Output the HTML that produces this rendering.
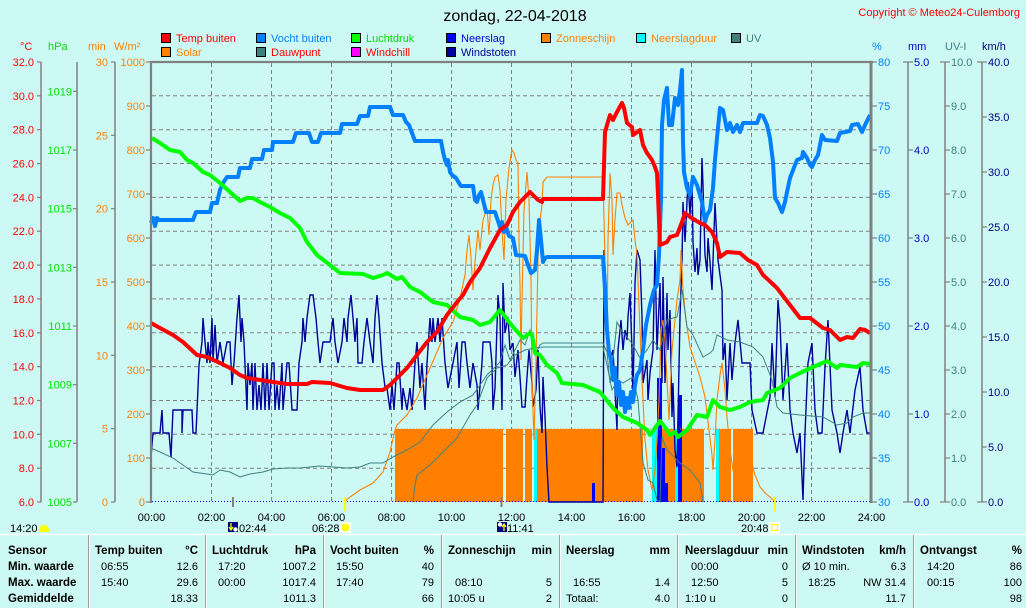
<!DOCTYPE html>
<html><head><meta charset="utf-8"><style>
html,body{margin:0;padding:0;background:#CDF9F5;}
svg{display:block;font-family:"Liberation Sans",Arial,sans-serif;}
</style></head><body>
<svg width="1026" height="608" viewBox="0 0 1026 608" xmlns="http://www.w3.org/2000/svg">
<rect x="0" y="0" width="1026" height="608" fill="#CDF9F5"/>
<!-- title -->
<text x="515" y="21" font-size="16" text-anchor="middle" fill="#000">zondag, 22-04-2018</text>
<text x="1020" y="16" font-size="11" text-anchor="end" fill="#FF0000">Copyright © Meteo24-Culemborg</text>

<!-- legend -->
<g font-size="11">
<rect x="161.5" y="33.5" width="9" height="9" fill="#FF0000" stroke="#000"/><text x="176" y="42" fill="#FF0000">Temp buiten</text>
<rect x="256.5" y="33.5" width="9" height="9" fill="#0080FF" stroke="#000"/><text x="271" y="42" fill="#0080FF">Vocht buiten</text>
<rect x="351.5" y="33.5" width="9" height="9" fill="#00FF00" stroke="#000"/><text x="366" y="42" fill="#00E000">Luchtdruk</text>
<rect x="446.5" y="33.5" width="9" height="9" fill="#0000FF" stroke="#000"/><text x="461" y="42" fill="#0000E0">Neerslag</text>
<rect x="541.5" y="33.5" width="9" height="9" fill="#FF8000" stroke="#000"/><text x="556" y="42" fill="#FF8000">Zonneschijn</text>
<rect x="636.5" y="33.5" width="9" height="9" fill="#00FFFF" stroke="#000"/><text x="651" y="42" fill="#FF8000">Neerslagduur</text>
<rect x="731.5" y="33.5" width="9" height="9" fill="#408080" stroke="#000"/><text x="746" y="42" fill="#408080">UV</text>
<rect x="161.5" y="47.5" width="9" height="9" fill="#FF8000" stroke="#000"/><text x="176" y="56" fill="#FF8000">Solar</text>
<rect x="256.5" y="47.5" width="9" height="9" fill="#408080" stroke="#000"/><text x="271" y="56" fill="#FF0000">Dauwpunt</text>
<rect x="351.5" y="47.5" width="9" height="9" fill="#FF00FF" stroke="#000"/><text x="366" y="56" fill="#FF0000">Windchill</text>
<rect x="446.5" y="47.5" width="9" height="9" fill="#000099" stroke="#000"/><text x="461" y="56" fill="#000099">Windstoten</text>
</g>

<!-- unit headers -->
<g font-size="11">
<text x="20" y="50" fill="#FF0000">°C</text>
<text x="48" y="50" fill="#00E000">hPa</text>
<text x="88" y="50" fill="#FF8000">min</text>
<text x="114" y="50" fill="#FF8000">W/m²</text>
<text x="872" y="50" fill="#0080FF">%</text>
<text x="908" y="50" fill="#0000CC">mm</text>
<text x="945" y="50" fill="#408080">UV-I</text>
<text x="982" y="50" fill="#000080">km/h</text>
</g>

<!-- left axes lines -->
<g stroke="#808080" stroke-width="1.5">
<line x1="41" y1="62" x2="41" y2="502"/>
<line x1="77" y1="62" x2="77" y2="502"/>
<line x1="115" y1="62" x2="115" y2="502"/>
<line x1="908" y1="62" x2="908" y2="502"/>
<line x1="945" y1="62" x2="945" y2="502"/>
<line x1="982" y1="62" x2="982" y2="502"/>
</g>
<!-- °C ticks/labels -->
<g stroke="#808080" stroke-width="1.2">
<line x1="37" y1="62" x2="41" y2="62"/><line x1="37" y1="95.8" x2="41" y2="95.8"/><line x1="37" y1="129.7" x2="41" y2="129.7"/><line x1="37" y1="163.5" x2="41" y2="163.5"/><line x1="37" y1="197.4" x2="41" y2="197.4"/><line x1="37" y1="231.2" x2="41" y2="231.2"/><line x1="37" y1="265.1" x2="41" y2="265.1"/><line x1="37" y1="298.9" x2="41" y2="298.9"/><line x1="37" y1="332.8" x2="41" y2="332.8"/><line x1="37" y1="366.6" x2="41" y2="366.6"/><line x1="37" y1="400.5" x2="41" y2="400.5"/><line x1="37" y1="434.3" x2="41" y2="434.3"/><line x1="37" y1="468.2" x2="41" y2="468.2"/><line x1="37" y1="502" x2="41" y2="502"/>
<line x1="73" y1="91.3" x2="77" y2="91.3"/><line x1="73" y1="150" x2="77" y2="150"/><line x1="73" y1="208.7" x2="77" y2="208.7"/><line x1="73" y1="267.3" x2="77" y2="267.3"/><line x1="73" y1="326" x2="77" y2="326"/><line x1="73" y1="384.7" x2="77" y2="384.7"/><line x1="73" y1="443.3" x2="77" y2="443.3"/><line x1="73" y1="502" x2="77" y2="502"/>
<line x1="111" y1="62" x2="115" y2="62"/><line x1="111" y1="135.3" x2="115" y2="135.3"/><line x1="111" y1="208.7" x2="115" y2="208.7"/><line x1="111" y1="282" x2="115" y2="282"/><line x1="111" y1="355.3" x2="115" y2="355.3"/><line x1="111" y1="428.7" x2="115" y2="428.7"/><line x1="111" y1="502" x2="115" y2="502"/>
<line x1="146" y1="62" x2="151" y2="62"/><line x1="146" y1="106" x2="151" y2="106"/><line x1="146" y1="150" x2="151" y2="150"/><line x1="146" y1="194" x2="151" y2="194"/><line x1="146" y1="238" x2="151" y2="238"/><line x1="146" y1="282" x2="151" y2="282"/><line x1="146" y1="326" x2="151" y2="326"/><line x1="146" y1="370" x2="151" y2="370"/><line x1="146" y1="414" x2="151" y2="414"/><line x1="146" y1="458" x2="151" y2="458"/><line x1="146" y1="502" x2="151" y2="502"/>
<!-- right -->
<line x1="871" y1="62" x2="877" y2="62"/><line x1="871" y1="106" x2="877" y2="106"/><line x1="871" y1="150" x2="877" y2="150"/><line x1="871" y1="194" x2="877" y2="194"/><line x1="871" y1="238" x2="877" y2="238"/><line x1="871" y1="282" x2="877" y2="282"/><line x1="871" y1="326" x2="877" y2="326"/><line x1="871" y1="370" x2="877" y2="370"/><line x1="871" y1="414" x2="877" y2="414"/><line x1="871" y1="458" x2="877" y2="458"/><line x1="871" y1="502" x2="877" y2="502"/>
<line x1="903" y1="62" x2="913" y2="62"/><line x1="908" y1="150" x2="913" y2="150"/><line x1="908" y1="238" x2="913" y2="238"/><line x1="908" y1="326" x2="913" y2="326"/><line x1="908" y1="414" x2="913" y2="414"/><line x1="903" y1="502" x2="913" y2="502"/>
<line x1="940" y1="62" x2="950" y2="62"/><line x1="945" y1="106" x2="950" y2="106"/><line x1="945" y1="150" x2="950" y2="150"/><line x1="945" y1="194" x2="950" y2="194"/><line x1="945" y1="238" x2="950" y2="238"/><line x1="945" y1="282" x2="950" y2="282"/><line x1="945" y1="326" x2="950" y2="326"/><line x1="945" y1="370" x2="950" y2="370"/><line x1="945" y1="414" x2="950" y2="414"/><line x1="945" y1="458" x2="950" y2="458"/><line x1="940" y1="502" x2="950" y2="502"/>
<line x1="977" y1="62" x2="987" y2="62"/><line x1="982" y1="117" x2="987" y2="117"/><line x1="982" y1="172" x2="987" y2="172"/><line x1="982" y1="227" x2="987" y2="227"/><line x1="982" y1="282" x2="987" y2="282"/><line x1="982" y1="337" x2="987" y2="337"/><line x1="982" y1="392" x2="987" y2="392"/><line x1="982" y1="447" x2="987" y2="447"/><line x1="977" y1="502" x2="987" y2="502"/>
</g>
<g font-size="11" text-anchor="end">
<g fill="#FF0000">
<text x="34" y="66">32.0</text><text x="34" y="99.8">30.0</text><text x="34" y="133.7">28.0</text><text x="34" y="167.5">26.0</text><text x="34" y="201.4">24.0</text><text x="34" y="235.2">22.0</text><text x="34" y="269.1">20.0</text><text x="34" y="302.9">18.0</text><text x="34" y="336.8">16.0</text><text x="34" y="370.6">14.0</text><text x="34" y="404.5">12.0</text><text x="34" y="438.3">10.0</text><text x="34" y="472.2">8.0</text><text x="34" y="506">6.0</text>
</g>
<g fill="#00E000">
<text x="72" y="95.3">1019</text><text x="72" y="154">1017</text><text x="72" y="212.7">1015</text><text x="72" y="271.3">1013</text><text x="72" y="330">1011</text><text x="72" y="388.7">1009</text><text x="72" y="447.3">1007</text><text x="72" y="506">1005</text>
</g>
<g fill="#FF8000">
<text x="108" y="66">30</text><text x="108" y="139.3">25</text><text x="108" y="212.7">20</text><text x="108" y="286">15</text><text x="108" y="359.3">10</text><text x="108" y="432.7">5</text><text x="108" y="506">0</text>
<text x="145" y="66">1000</text><text x="145" y="110">900</text><text x="145" y="154">800</text><text x="145" y="198">700</text><text x="145" y="242">600</text><text x="145" y="286">500</text><text x="145" y="330">400</text><text x="145" y="374">300</text><text x="145" y="418">200</text><text x="145" y="462">100</text><text x="145" y="506">0</text>
</g>
</g>
<g font-size="11">
<g fill="#0080FF">
<text x="878" y="66">80</text><text x="878" y="110">75</text><text x="878" y="154">70</text><text x="878" y="198">65</text><text x="878" y="242">60</text><text x="878" y="286">55</text><text x="878" y="330">50</text><text x="878" y="374">45</text><text x="878" y="418">40</text><text x="878" y="462">35</text><text x="878" y="506">30</text>
</g>
<g fill="#0000CC">
<text x="914" y="66">5.0</text><text x="914" y="154">4.0</text><text x="914" y="242">3.0</text><text x="914" y="330">2.0</text><text x="914" y="418">1.0</text><text x="914" y="506">0.0</text>
</g>
<g fill="#408080">
<text x="951" y="66">10.0</text><text x="951" y="110">9.0</text><text x="951" y="154">8.0</text><text x="951" y="198">7.0</text><text x="951" y="242">6.0</text><text x="951" y="286">5.0</text><text x="951" y="330">4.0</text><text x="951" y="374">3.0</text><text x="951" y="418">2.0</text><text x="951" y="462">1.0</text><text x="951" y="506">0.0</text>
</g>
<g fill="#000080">
<text x="988" y="66">40.0</text><text x="988" y="121">35.0</text><text x="988" y="176">30.0</text><text x="988" y="231">25.0</text><text x="988" y="286">20.0</text><text x="988" y="341">15.0</text><text x="988" y="396">10.0</text><text x="988" y="451">5.0</text><text x="988" y="506">0.0</text>
</g>
</g>

<!-- grid -->
<g stroke="#808080" stroke-width="1" stroke-dasharray="4,3" fill="none">
<path d="M211.5 63V502M271.5 63V502M331.5 63V502M391.5 63V502M451.5 63V502M511.5 63V502M571.5 63V502M631.5 63V502M691.5 63V502M751.5 63V502M811.5 63V502"/>
<path d="M152 95.8H870M152 129.7H870M152 163.5H870M152 197.4H870M152 231.2H870M152 265.1H870M152 298.9H870M152 332.8H870M152 366.6H870M152 400.5H870M152 434.3H870M152 468.2H870"/>
</g>

<!-- zonneschijn bars -->
<g fill="#FF8000">
<rect x="395" y="429" width="108" height="73"/>
<rect x="506" y="429" width="17" height="73"/>
<rect x="525" y="429" width="7" height="73"/>
<rect x="537" y="429" width="106" height="73"/>
<rect x="662" y="429" width="13" height="73"/>
<rect x="681" y="429" width="23" height="73"/>
<rect x="719" y="429" width="12" height="73"/>
<rect x="733" y="429" width="20" height="73"/>
</g>
<!-- neerslagduur -->
<g fill="#00FFFF">
<rect x="534" y="429" width="3" height="73"/>
<rect x="652" y="429" width="5" height="73"/>
<rect x="675" y="429" width="3" height="73"/>
<rect x="716" y="429" width="3" height="73"/>
</g>
<!-- neerslag -->
<g fill="#0000FF">
<rect x="592" y="483" width="3" height="19"/>
<rect x="657" y="378" width="5" height="124"/>
<rect x="662" y="448" width="3" height="54"/>
<rect x="665" y="483" width="3" height="19"/>
<rect x="678" y="395" width="4" height="107"/>
</g>
<line x1="395" y1="429" x2="753" y2="429" stroke="#FF8000" stroke-width="1" stroke-dasharray="1,2"/>
<line x1="152" y1="501.5" x2="870" y2="501.5" stroke="#0000FF" stroke-width="1" stroke-dasharray="1,2"/>

<!-- windstoten -->
<polyline fill="none" stroke="#000099" stroke-width="1.4" points="151,457 153,433 160,433 162,410 163,433 169,433 171,457 172,433 173,410 182,410 182,433 183,410 192,410 193,433 196,433 198,388 199,365 202,342 203,318 205,342 207,363 208,342 210,363 212,318 213,362 215,325 217,363 220,342 223,363 227,342 230,342 232,385 234,363 237,318 239,295 241,342 242,318 244,342 247,410 248,363 250,385 252,363 253,410 255,363 257,410 259,385 261,410 263,363 265,410 267,363 269,410 272,363 274,363 275,410 277,385 279,410 282,363 283,410 287,363 289,363 292,410 297,410 299,363 302,342 303,318 305,342 307,318 310,295 313,295 316,318 318,342 320,363 323,342 330,342 333,318 335,342 338,363 342,342 344,318 347,342 348,318 351,295 353,318 355,342 357,318 358,363 362,363 364,342 367,318 370,342 373,363 375,318 377,295 379,318 382,363 385,387 387,388 390,410 392,385 394,410 397,363 399,363 402,410 403,388 407,410 410,388 412,410 415,363 417,342 420,388 422,363 425,410 427,363 430,318 432,342 433,318 435,342 438,318 440,342 442,318 445,363 448,388 453,363 457,342 459,388 462,342 465,342 467,363 470,388 473,363 477,385 478,410 482,363 483,342 490,342 492,363 493,410 495,388 498,295 500,318 502,410 503,283 505,333 508,317 510,350 513,343 515,377 518,350 520,377 522,407 525,407 527,377 529,350 532,383 533,407 536,390 538,350 540,407 542,433 543,377 545,417 547,467 549,502 603,502 604,250 606,283 607,333 610,360 613,350 617,430 618,350 621,320 623,350 625,330 627,340 628,317 630,293 632,350 633,400 635,283 637,250 640,260 642,317 643,383 647,360 648,400 650,373 653,350 655,250 657,350 660,283 662,383 663,277 665,383 667,293 668,350 670,310 672,417 673,383 675,450 677,467 680,317 682,262 683,202 685,242 688,182 690,215 692,178 693,242 695,272 697,248 698,275 700,260 702,158 703,185 705,255 707,272 708,238 710,262 712,290 715,203 718,260 722,290 723,360 725,343 727,400 730,343 732,380 735,343 738,320 742,363 750,363 752,410 757,433 763,433 770,397 772,343 775,397 778,300 780,323 783,400 787,343 790,410 793,433 797,453 800,433 803,500 805,433 808,363 812,343 815,410 818,433 822,433 825,367 828,320 832,410 837,433 840,453 843,433 847,410 850,433 855,390 860,367 863,410 867,433 870,433"/>

<!-- solar -->
<polyline fill="none" stroke="#FF8000" stroke-width="1.1" points="344,502 350,497 360,490 373,483 383,472 390,452 395,430 397,425 407,415 417,398 427,375 437,352 443,338 453,322 460,298 465,275 467,250 469,235 471,258 473,290 475,262 478,230 480,250 483,220 487,208 489,235 491,200 493,185 495,177 498,175 500,190 502,230 504,260 506,200 509,168 511,155 512,150 514,153 516,160 518,163 519,240 520,285 521,360 522,300 524,210 527,172 529,200 531,280 532,380 534,440 536,360 538,260 540,220 542,205 543,182 547,177 603,177 605,260 607,350 608,240 610,173 612,200 613,255 615,220 617,193 620,193 622,205 625,218 628,225 633,220 635,240 637,255 640,330 642,380 645,440 648,470 652,490 655,470 657,440 659,400 661,330 663,320 665,340 667,380 669,420 672,350 675,320 677,300 680,280 681,250 683,290 686,320 690,347 695,362 700,377 705,397 709,430 712,455 713,470 715,440 717,400 720,375 722,363 725,390 727,417 730,450 733,470 737,483 745,480 752,463 755,475 760,487 765,493 770,497 775,502"/>

<!-- dauwpunt -->
<polyline fill="none" stroke="#408080" stroke-width="1" points="151,448 160,452 173,458 183,465 193,472 207,474 213,475 220,470 230,472 240,477 250,474 263,472 273,469 287,468 300,468 320,466 333,467 347,468 360,467 370,463 383,463 393,457 407,450 420,442 433,425 447,412 460,402 473,395 487,375 500,362 505,345 510,360 515,350 520,340 525,345 530,330 535,355 540,345 543,343 603,343 607,352 610,383 613,360 617,322 621,330 627,337 633,345 640,358 647,350 653,340 660,350 667,320 673,318 677,317 682,290 687,327 693,335 703,357 710,353 713,350 717,335 727,340 740,342 753,347 763,357 772,380 777,407 783,413 800,415 823,417 837,425 847,423 853,417 863,413 870,413"/>
<!-- UV -->
<polyline fill="none" stroke="#408080" stroke-width="1" points="413,502 415,485 417,475 430,465 443,452 457,438 470,415 477,405 487,378 497,368 507,365 515,355 525,350 535,348 543,347 603,347 607,365 612,390 618,380 623,383 633,377 638,400 643,463 648,480 653,483 657,500 660,502 662,437 667,450 680,463 690,470 700,483 703,502"/>

<!-- vocht buiten -->
<polyline fill="none" stroke="#0080FF" stroke-width="4" stroke-linejoin="round" points="151,223 153,218 155,226 157,218 159,220 193,220 196,212 210,212 212,203 217,203 220,190 223,183 227,177 238,177 240,168 250,168 252,159 262,159 264,150 272,150 273,142 293,142 296,133 309,133 312,142 318,142 321,133 340,133 342,124 357,124 360,116 368,116 370,107 390,107 393,115 403,115 406,122 409,125 412,133 415,141 441,141 443,152 445,160 447,165 448,160 450,172 452,175 456,178 459,183 461,186 473,186 475,200 477,202 479,195 481,192 483,200 486,212 495,212 497,218 499,224 501,230 502,222 504,232 506,227 509,236 513,238 516,255 525,256 528,265 531,273 535,270 537,250 539,220 541,240 543,262 545,258 547,257 603,257 605,290 607,330 609,352 611,360 613,380 615,368 617,395 619,382 621,405 623,392 625,412 627,398 629,408 631,392 633,402 635,385 637,375 640,370 643,350 646,325 650,305 654,290 657,285 659,255 661,200 662,125 664,100 667,88 669,125 672,125 675,98 678,105 680,90 682,70 683,142 684,172 687,188 690,195 693,177 697,185 702,202 705,222 707,215 710,210 713,188 715,160 717,138 720,108 723,110 727,130 730,123 733,132 737,125 740,132 743,123 757,123 760,115 763,116 767,125 770,138 773,162 775,198 778,203 782,212 785,202 787,192 790,178 795,165 797,160 802,158 803,152 807,158 810,165 812,167 815,160 818,155 822,135 825,140 837,141 840,133 850,131 852,125 858,124 862,132 865,125 870,115"/>

<!-- luchtdruk -->
<polyline fill="none" stroke="#00FF00" stroke-width="4" stroke-linejoin="round" points="152,138 160,143 170,150 180,152 187,160 193,163 203,172 210,175 220,183 230,192 240,201 247,198 253,198 260,202 270,207 280,213 290,218 300,228 307,242 317,255 330,265 340,273 363,274 373,278 383,275 387,273 397,279 402,277 410,287 420,292 433,302 447,305 460,317 473,320 480,325 490,322 500,310 513,327 523,338 530,333 532,335 535,353 540,355 547,365 557,373 562,383 583,385 600,392 613,408 623,417 637,423 647,430 650,435 660,421 667,430 670,435 675,432 678,437 687,430 697,415 707,417 713,400 720,407 730,410 740,407 750,402 763,400 767,393 780,388 790,378 800,373 813,367 827,361 837,368 840,365 857,367 863,363 870,364"/>

<!-- temp buiten -->
<polyline fill="none" stroke="#FF0000" stroke-width="4" stroke-linejoin="round" points="151,323 160,328 173,335 183,342 197,355 207,357 220,363 230,368 240,375 247,378 267,381 273,382 287,384 307,384 312,382 330,383 347,388 360,390 383,390 390,385 397,378 407,368 417,355 427,342 437,332 447,315 457,302 463,295 470,282 480,268 490,248 500,230 507,225 513,212 520,202 530,192 538,200 542,202 543,199 603,199 605,132 610,115 613,120 617,112 622,103 624,108 627,123 632,127 633,135 640,130 643,145 647,153 652,160 655,167 657,173 658,195 660,245 667,242 670,237 677,235 682,222 685,213 690,217 700,223 705,225 712,232 717,243 720,257 727,252 740,253 748,260 757,265 763,275 777,288 790,305 800,318 810,318 823,328 830,330 840,340 847,337 853,338 860,329 865,330 870,333"/>

<!-- plot border -->
<g stroke="#808080" fill="none">
<line x1="150" y1="62" x2="873" y2="62" stroke-width="2.2"/>
<line x1="151" y1="61" x2="151" y2="503" stroke-width="2.2"/>
<line x1="871" y1="61" x2="871" y2="503" stroke-width="3"/>
</g>
<!-- time markers -->
<line x1="233" y1="497" x2="233" y2="507" stroke="#808080" stroke-width="2"/>
<line x1="501.5" y1="497" x2="501.5" y2="507" stroke="#808080" stroke-width="2"/>
<line x1="345" y1="497" x2="345" y2="511" stroke="#FFFF00" stroke-width="2"/>
<line x1="775" y1="497" x2="775" y2="511" stroke="#FFFF00" stroke-width="2"/>

<!-- x labels -->
<g font-size="11" text-anchor="middle" fill="#000">
<text x="151.5" y="521">00:00</text><text x="211.5" y="521">02:00</text><text x="271.5" y="521">04:00</text><text x="331.5" y="521">06:00</text><text x="391.5" y="521">08:00</text><text x="451.5" y="521">10:00</text><text x="511.5" y="521">12:00</text><text x="571.5" y="521">14:00</text><text x="631.5" y="521">16:00</text><text x="691.5" y="521">18:00</text><text x="751.5" y="521">20:00</text><text x="811.5" y="521">22:00</text><text x="871.5" y="521">24:00</text>
</g>
<!-- sun/moon row -->
<g font-size="11" fill="#000">
<text x="10" y="532">14:20</text>
<path d="M39 532 Q39 525 44 525 Q49 525 49 532 Z" fill="#FFFF00"/>
<rect x="228" y="522" width="10" height="10" fill="#000080"/>
<path d="M231 523 V529 M229 527 L231 530 L233 527" stroke="#FFFF00" stroke-width="1.3" fill="none"/>
<circle cx="235.5" cy="529.5" r="2.2" fill="#FFFFFF"/>
<text x="239" y="532">02:44</text>
<text x="312" y="532">06:28</text>
<rect x="340" y="522" width="11" height="11" fill="#FFFFFF"/>
<circle cx="345.5" cy="527.5" r="4" fill="#FFFF00"/>
<rect x="497" y="522" width="10" height="10" fill="#000080"/>
<circle cx="500" cy="524.5" r="2.2" fill="#FFFFFF"/>
<path d="M504 531 V525 M502 527 L504 524 L506 527" stroke="#FFFF00" stroke-width="1.3" fill="none"/>
<text x="507" y="532">11:41</text>
<text x="741" y="532">20:48</text>
<rect x="769" y="522" width="11" height="11" fill="#FFFFFF"/>
<rect x="771.5" y="524.5" width="6" height="6" fill="none" stroke="#FFFF00" stroke-width="1.3"/>
</g>

<!-- table -->
<line x1="0" y1="534.5" x2="1026" y2="534.5" stroke="#FFFFFF" stroke-width="1.5"/>
<g stroke-width="1">
<g stroke="#A0A0A0"><line x1="88.5" y1="535" x2="88.5" y2="608"/><line x1="205.5" y1="535" x2="205.5" y2="608"/><line x1="323.5" y1="535" x2="323.5" y2="608"/><line x1="441.5" y1="535" x2="441.5" y2="608"/><line x1="559.5" y1="535" x2="559.5" y2="608"/><line x1="677.5" y1="535" x2="677.5" y2="608"/><line x1="795.5" y1="535" x2="795.5" y2="608"/><line x1="913.5" y1="535" x2="913.5" y2="608"/></g>
<g stroke="#FFFFFF"><line x1="89.5" y1="535" x2="89.5" y2="608"/><line x1="206.5" y1="535" x2="206.5" y2="608"/><line x1="324.5" y1="535" x2="324.5" y2="608"/><line x1="442.5" y1="535" x2="442.5" y2="608"/><line x1="560.5" y1="535" x2="560.5" y2="608"/><line x1="678.5" y1="535" x2="678.5" y2="608"/><line x1="796.5" y1="535" x2="796.5" y2="608"/><line x1="914.5" y1="535" x2="914.5" y2="608"/></g>
</g>
<g font-size="11.5" font-weight="bold" fill="#000">
<text x="8" y="554">Sensor</text><text x="8" y="570">Min. waarde</text><text x="8" y="586">Max. waarde</text><text x="8" y="602">Gemiddelde</text>
<text x="95" y="554">Temp buiten</text><text x="198" y="554" text-anchor="end">°C</text>
<text x="212" y="554">Luchtdruk</text><text x="316" y="554" text-anchor="end">hPa</text>
<text x="330" y="554">Vocht buiten</text><text x="434" y="554" text-anchor="end">%</text>
<text x="448" y="554">Zonneschijn</text><text x="552" y="554" text-anchor="end">min</text>
<text x="566" y="554">Neerslag</text><text x="670" y="554" text-anchor="end">mm</text>
<text x="685" y="554">Neerslagduur</text><text x="788" y="554" text-anchor="end">min</text>
<text x="802" y="554">Windstoten</text><text x="906" y="554" text-anchor="end">km/h</text>
<text x="920" y="554">Ontvangst</text><text x="1022" y="554" text-anchor="end">%</text>
</g>
<g font-size="11" fill="#000">
<text x="101" y="570">06:55</text><text x="101" y="586">15:40</text>
<text x="218" y="570">17:20</text><text x="218" y="586">00:00</text>
<text x="336" y="570">15:50</text><text x="336" y="586">17:40</text>
<text x="455" y="586">08:10</text><text x="448" y="602">10:05 u</text>
<text x="573" y="586">16:55</text><text x="566" y="602">Totaal:</text>
<text x="691" y="570">00:00</text><text x="691" y="586">12:50</text><text x="685" y="602">1:10 u</text>
<text x="802" y="570">Ø 10 min.</text><text x="808" y="586">18:25</text>
<text x="927" y="570">14:20</text><text x="927" y="586">00:15</text>
<g text-anchor="end">
<text x="198" y="570">12.6</text><text x="198" y="586">29.6</text><text x="198" y="602">18.33</text>
<text x="316" y="570">1007.2</text><text x="316" y="586">1017.4</text><text x="316" y="602">1011.3</text>
<text x="434" y="570">40</text><text x="434" y="586">79</text><text x="434" y="602">66</text>
<text x="552" y="586">5</text><text x="552" y="602">2</text>
<text x="670" y="586">1.4</text><text x="670" y="602">4.0</text>
<text x="788" y="570">0</text><text x="788" y="586">5</text><text x="788" y="602">0</text>
<text x="906" y="570">6.3</text><text x="906" y="586">NW 31.4</text><text x="906" y="602">11.7</text>
<text x="1022" y="570">86</text><text x="1022" y="586">100</text><text x="1022" y="602">98</text>
</g>
</g>
</svg>
</body></html>
